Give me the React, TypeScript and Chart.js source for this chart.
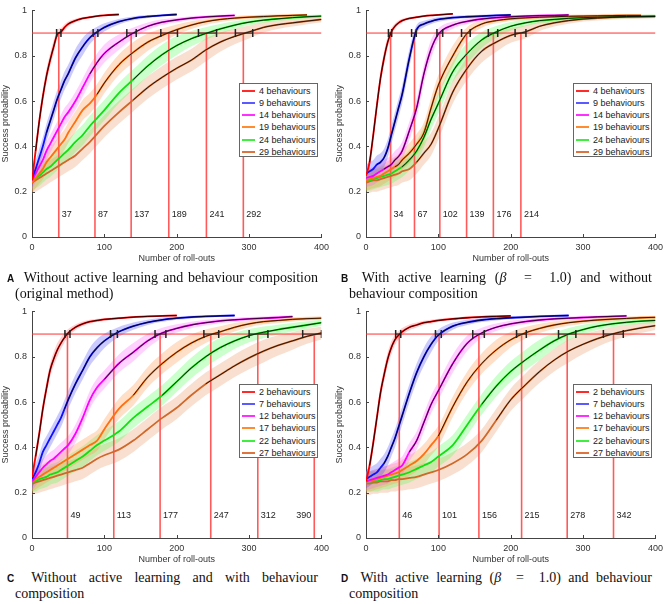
import React, { useEffect, useRef } from "react";
import { Chart, registerables } from "chart.js";
Chart.register(...registerables);

// Shared roll-out sample positions
const rollouts = [0, 5, 10, 15, 20, 25, 30, 35, 40, 45, 50, 60, 70, 80, 90, 100, 120, 140, 160, 180, 200, 220, 240, 260, 280, 300, 320, 340, 360, 380, 400];

// Panel A
const labelsAB = ["4 behaviours", "9 behaviours", "14 behaviours", "19 behaviours", "24 behaviours", "29 behaviours"];
const a4 = [0.25, 0.38, 0.51, 0.62, 0.71, 0.78, 0.84, 0.895, 0.905, 0.925, 0.94, 0.955, 0.965, 0.97, 0.975, 0.978, 0.982];
const a9 = [0.26, 0.3, 0.35, 0.4, 0.46, 0.51, 0.56, 0.61, 0.65, 0.69, 0.72, 0.79, 0.84, 0.88, 0.905, 0.925, 0.95, 0.965, 0.973, 0.978, 0.982];
const a14 = [0.25, 0.28, 0.31, 0.34, 0.38, 0.41, 0.44, 0.47, 0.5, 0.53, 0.55, 0.6, 0.66, 0.72, 0.77, 0.81, 0.86, 0.9, 0.93, 0.948, 0.958, 0.966, 0.971, 0.975, 0.978];
const a19 = [0.24, 0.26, 0.28, 0.3, 0.33, 0.35, 0.37, 0.39, 0.41, 0.43, 0.46, 0.51, 0.56, 0.59, 0.63, 0.68, 0.76, 0.815, 0.86, 0.89, 0.915, 0.935, 0.95, 0.96, 0.966, 0.97, 0.973, 0.976, 0.978, 0.98];
const a24 = [0.25, 0.26, 0.27, 0.285, 0.3, 0.31, 0.325, 0.34, 0.355, 0.37, 0.385, 0.42, 0.45, 0.49, 0.525, 0.56, 0.635, 0.695, 0.755, 0.805, 0.845, 0.875, 0.898, 0.918, 0.935, 0.948, 0.957, 0.963, 0.968, 0.972, 0.975];
const a29 = [0.24, 0.25, 0.26, 0.27, 0.28, 0.29, 0.3, 0.31, 0.32, 0.33, 0.34, 0.36, 0.39, 0.42, 0.455, 0.49, 0.55, 0.605, 0.66, 0.705, 0.745, 0.78, 0.825, 0.86, 0.885, 0.905, 0.925, 0.937, 0.945, 0.953, 0.96];
const crossA = [37, 87, 137, 189, 241, 292];
const ciLoA = [34, 84.5, 131, 178, 230, 281];
const ciHiA = [40, 91, 144, 201, 255, 305];
const fitStartA = [3, 20, 80, 90, 130, 140];

// Panel B
const b4 = [0.27, 0.33, 0.45, 0.58, 0.7, 0.79, 0.86, 0.905, 0.93, 0.945, 0.955, 0.965, 0.97, 0.975, 0.978, 0.98, 0.985];
const b9 = [0.28, 0.29, 0.3, 0.32, 0.33, 0.35, 0.39, 0.45, 0.51, 0.57, 0.63, 0.79, 0.915, 0.94, 0.952, 0.96, 0.968, 0.972, 0.975, 0.978, 0.98];
const b14 = [0.26, 0.265, 0.27, 0.28, 0.29, 0.3, 0.31, 0.32, 0.34, 0.355, 0.38, 0.47, 0.57, 0.72, 0.83, 0.895, 0.935, 0.952, 0.962, 0.968, 0.972, 0.975, 0.977, 0.978, 0.98];
const b19 = [0.25, 0.255, 0.26, 0.265, 0.27, 0.28, 0.29, 0.3, 0.31, 0.32, 0.34, 0.37, 0.41, 0.46, 0.57, 0.67, 0.8, 0.9, 0.94, 0.955, 0.963, 0.967, 0.97, 0.972, 0.974, 0.975, 0.976, 0.977, 0.978, 0.978];
const b24 = [0.25, 0.25, 0.255, 0.26, 0.265, 0.27, 0.275, 0.28, 0.29, 0.3, 0.31, 0.34, 0.38, 0.44, 0.52, 0.59, 0.73, 0.81, 0.87, 0.905, 0.93, 0.945, 0.955, 0.96, 0.965, 0.968, 0.97, 0.972, 0.973, 0.974, 0.975];
const b29 = [0.24, 0.245, 0.25, 0.25, 0.255, 0.26, 0.265, 0.27, 0.275, 0.28, 0.29, 0.3, 0.33, 0.37, 0.41, 0.48, 0.64, 0.745, 0.82, 0.86, 0.89, 0.905, 0.93, 0.945, 0.955, 0.962, 0.966, 0.969, 0.971, 0.972, 0.973];
const crossB = [34, 67, 102, 139, 176, 214];
const ciLoB = [31, 63, 98, 132, 169, 206];
const ciHiB = [35.5, 69.5, 106, 144, 182, 221];
const fitStartB = [5, 15, 25, 40, 50, 70];

// Panel C
const labelsCD = ["2 behaviours", "7 behaviours", "12 behaviours", "17 behaviours", "22 behaviours", "27 behaviours"];
const c2 = [0.27, 0.36, 0.46, 0.57, 0.66, 0.74, 0.79, 0.83, 0.86, 0.885, 0.905, 0.93, 0.945, 0.955, 0.96, 0.965, 0.97, 0.975, 0.978, 0.98, 0.982];
const c7 = [0.26, 0.29, 0.33, 0.38, 0.41, 0.44, 0.47, 0.5, 0.53, 0.57, 0.61, 0.68, 0.74, 0.8, 0.84, 0.87, 0.91, 0.935, 0.952, 0.963, 0.97, 0.975, 0.978, 0.98, 0.982];
const c12 = [0.25, 0.27, 0.29, 0.31, 0.325, 0.34, 0.35, 0.365, 0.38, 0.395, 0.41, 0.46, 0.53, 0.61, 0.665, 0.7, 0.77, 0.82, 0.87, 0.905, 0.925, 0.94, 0.95, 0.958, 0.963, 0.967, 0.97, 0.973, 0.977];
const c17 = [0.25, 0.26, 0.27, 0.28, 0.29, 0.3, 0.31, 0.32, 0.33, 0.34, 0.35, 0.37, 0.39, 0.41, 0.43, 0.48, 0.57, 0.63, 0.71, 0.77, 0.82, 0.86, 0.89, 0.91, 0.93, 0.945, 0.955, 0.96, 0.965, 0.968, 0.97];
const c22 = [0.25, 0.25, 0.26, 0.265, 0.27, 0.28, 0.285, 0.29, 0.3, 0.31, 0.32, 0.34, 0.36, 0.385, 0.41, 0.43, 0.47, 0.53, 0.58, 0.63, 0.69, 0.75, 0.8, 0.84, 0.87, 0.893, 0.908, 0.92, 0.93, 0.94, 0.95];
const c27 = [0.24, 0.245, 0.25, 0.255, 0.26, 0.265, 0.27, 0.275, 0.28, 0.285, 0.29, 0.3, 0.31, 0.33, 0.35, 0.365, 0.39, 0.43, 0.48, 0.53, 0.575, 0.63, 0.68, 0.72, 0.76, 0.795, 0.825, 0.85, 0.87, 0.89, 0.905];
const crossC = [49, 113, 177, 247, 312, 390];
const ciLoC = [45.5, 108.5, 170, 237.5, 300, 374];
const ciHiC = [52.5, 118, 185, 258, 326, 400];
const fitStartC = [3, 45, 100, 130, 180, 230];

// Panel D
const d2 = [0.25, 0.32, 0.42, 0.53, 0.64, 0.72, 0.79, 0.84, 0.875, 0.895, 0.91, 0.93, 0.94, 0.95, 0.955, 0.96, 0.967, 0.972, 0.976, 0.978, 0.98];
const d7 = [0.26, 0.27, 0.28, 0.29, 0.31, 0.33, 0.36, 0.4, 0.44, 0.49, 0.54, 0.64, 0.73, 0.8, 0.855, 0.895, 0.935, 0.952, 0.962, 0.968, 0.972, 0.975, 0.978, 0.98, 0.982];
const d12 = [0.25, 0.255, 0.26, 0.265, 0.27, 0.275, 0.28, 0.29, 0.3, 0.31, 0.32, 0.38, 0.43, 0.51, 0.59, 0.65, 0.77, 0.86, 0.905, 0.93, 0.945, 0.955, 0.962, 0.967, 0.97, 0.973, 0.976, 0.978, 0.98];
const d17 = [0.25, 0.25, 0.255, 0.26, 0.265, 0.27, 0.275, 0.28, 0.285, 0.29, 0.3, 0.32, 0.34, 0.37, 0.41, 0.45, 0.58, 0.69, 0.77, 0.83, 0.875, 0.905, 0.925, 0.94, 0.95, 0.957, 0.962, 0.966, 0.969, 0.972, 0.974];
const d22 = [0.25, 0.25, 0.25, 0.25, 0.255, 0.26, 0.26, 0.265, 0.27, 0.275, 0.28, 0.29, 0.305, 0.32, 0.335, 0.36, 0.41, 0.5, 0.59, 0.67, 0.735, 0.785, 0.83, 0.87, 0.9, 0.92, 0.935, 0.945, 0.952, 0.957, 0.96];
const d27 = [0.24, 0.24, 0.245, 0.245, 0.25, 0.25, 0.25, 0.255, 0.255, 0.26, 0.26, 0.265, 0.27, 0.28, 0.29, 0.3, 0.33, 0.37, 0.43, 0.52, 0.61, 0.675, 0.735, 0.785, 0.825, 0.855, 0.88, 0.9, 0.915, 0.927, 0.937];
const crossD = [46, 101, 156, 215, 278, 342];
const ciLoD = [41, 96, 147.5, 208, 266, 328];
const ciHiD = [48, 104, 163.5, 221.5, 290, 355.5];
const fitStartD = [3, 25, 60, 100, 150, 180];

// Confidence band half-widths per series
const bandWidth = [0.03, 0.04, 0.04, 0.045, 0.045, 0.05];

const threshold = 0.9;
const xTicks = [0, 100, 200, 300, 400];

const COLORS = ["#ff0000", "#1010ff", "#ff00ff", "#ff7010", "#10e010", "#d0682a"];
const BANDS = [
  "rgba(255,70,70,0.25)",
  "rgba(80,80,255,0.3)",
  "rgba(255,90,255,0.28)",
  "rgba(255,150,70,0.3)",
  "rgba(70,255,70,0.28)",
  "rgba(235,150,100,0.3)",
];
const LEGEND_COLORS = ["#ff2a2a", "#5a5aff", "#ff30ff", "#ff8c30", "#40ee40", "#de7440"];

const SANS = '"Liberation Sans", Arial, Helvetica, sans-serif';
const SERIF = '"Liberation Serif", "Times New Roman", Times, serif';

Chart.defaults.font.family = SANS;

type PanelProps = {
  series: number[][];
  cross: number[];
  ciLo: number[];
  ciHi: number[];
  fitStart: number[];
  left: number;
  top: number;
};

function Panel({ series, cross, ciLo, ciHi, fitStart, left, top }: PanelProps) {
  const ref = useRef<HTMLCanvasElement | null>(null);

  useEffect(() => {
    if (!ref.current) return;
    const datasets: any[] = [];

    // error-bar markers on the threshold line (top-most)
    series.forEach((_, i) => {
      datasets.push({
        data: [
          { x: ciLo[i], y: threshold },
          { x: ciHi[i], y: threshold },
        ],
        borderColor: "#222",
        borderWidth: 1,
        pointStyle: "line",
        pointRadius: 4,
        pointRotation: 90,
        pointBorderColor: "#222",
        pointBorderWidth: 1.5,
        order: 0,
      });
    });

    // black fitted curves
    series.forEach((s, i) => {
      const pts = s.map((y, k) => ({ x: rollouts[k], y })).filter((p) => p.x >= fitStart[i]);
      datasets.push({
        data: pts,
        borderColor: "#000",
        borderWidth: 0.8,
        pointRadius: 0,
        cubicInterpolationMode: "monotone",
        order: 1,
      });
    });

    // mean curves
    series.forEach((s, i) => {
      datasets.push({
        data: s.map((y, k) => ({ x: rollouts[k], y })),
        borderColor: COLORS[i],
        borderWidth: 1.8,
        pointRadius: 0,
        cubicInterpolationMode: "monotone",
        order: 2,
      });
    });

    // red reference lines
    datasets.push({
      data: [
        { x: 0, y: threshold },
        { x: 400, y: threshold },
      ],
      borderColor: "#ff3030",
      borderWidth: 1,
      pointRadius: 0,
      order: 3,
    });
    cross.forEach((c) => {
      datasets.push({
        data: [
          { x: c, y: 0 },
          { x: c, y: threshold },
        ],
        borderColor: "#ff5a5a",
        borderWidth: 1.6,
        pointRadius: 0,
        order: 3,
      });
    });

    // confidence bands
    series.forEach((s, i) => {
      const w = (y: number) => bandWidth[i] * Math.min(1, (1 - y) * 6);
      datasets.push({
        data: s.map((y, k) => ({ x: rollouts[k], y: Math.min(1, y + w(y)) })),
        borderWidth: 0,
        borderColor: "rgba(0,0,0,0)",
        pointRadius: 0,
        cubicInterpolationMode: "monotone",
        fill: false,
        order: 4,
      });
      datasets.push({
        data: s.map((y, k) => ({ x: rollouts[k], y: y - w(y) })),
        borderWidth: 0,
        borderColor: "rgba(0,0,0,0)",
        backgroundColor: BANDS[i],
        pointRadius: 0,
        cubicInterpolationMode: "monotone",
        fill: "-1",
        order: 4,
      });
    });

    const overlay = {
      id: "overlay",
      afterDatasetsDraw(chart: any) {
        const { ctx, chartArea, scales } = chart;
        const x = scales.x;
        const y = scales.y;
        ctx.save();
        ctx.font = `9px ${SANS}`;
        ctx.fillStyle = "#222";
        ctx.textBaseline = "middle";
        cross.forEach((c) => {
          const px = x.getPixelForValue(c);
          const py = y.getPixelForValue(0.1);
          if (c > 370) {
            ctx.textAlign = "right";
            ctx.fillText(String(c), px - 3, py);
          } else {
            ctx.textAlign = "left";
            ctx.fillText(String(c), px + 3, py);
          }
        });
        // inward tick marks
        ctx.strokeStyle = "#444";
        ctx.lineWidth = 1;
        ctx.beginPath();
        xTicks.forEach((v) => {
          const px = Math.round(x.getPixelForValue(v)) + 0.5;
          ctx.moveTo(px, chartArea.bottom);
          ctx.lineTo(px, chartArea.bottom - 3);
        });
        y.ticks.forEach((t: any) => {
          const py = Math.round(y.getPixelForValue(t.value)) + 0.5;
          ctx.moveTo(chartArea.left, py);
          ctx.lineTo(chartArea.left + 3, py);
        });
        ctx.stroke();
        ctx.restore();
      },
    };

    const font = { family: SANS, size: 9 };
    const chart = new Chart(ref.current, {
      type: "line",
      data: { datasets },
      options: {
        responsive: false,
        animation: false,
        events: [],
        layout: { padding: { left: 0, top: 6, right: 8, bottom: 0 } },
        plugins: { legend: { display: false }, tooltip: { enabled: false } },
        scales: {
          x: {
            type: "linear",
            min: 0,
            max: 400,
            ticks: { stepSize: 100, padding: 5, color: "#333", font, maxRotation: 0 },
            grid: { display: true, drawOnChartArea: false, drawTicks: false },
            border: { display: true, color: "#444", width: 1 },
            title: { display: true, text: "Number of roll-outs", padding: 0, color: "#333", font },
            afterFit: (s: any) => {
              s.height = 27;
            },
          },
          y: {
            min: 0,
            max: 1,
            ticks: {
              stepSize: 0.2,
              padding: 5,
              color: "#333",
              font,
              callback: (v: any) => (v === 0 ? "0" : v === 1 ? "1" : Number(v).toFixed(1)),
            },
            grid: { display: true, drawOnChartArea: false, drawTicks: false },
            border: { display: true, color: "#444", width: 1 },
            title: { display: true, text: "Success probability", padding: 0, color: "#333", font },
            afterFit: (s: any) => {
              s.width = 32;
            },
          },
        },
      } as any,
      plugins: [overlay],
    });
    return () => chart.destroy();
  }, []);

  return (
    <canvas
      ref={ref}
      width={334}
      height={264}
      style={{ position: "absolute", left, top, width: 334, height: 264 }}
    />
  );
}

function Legend({ labels, left, top }: { labels: string[]; left: number; top: number }) {
  return (
    <div
      style={{
        position: "absolute",
        left,
        top,
        width: 79,
        height: 74,
        boxSizing: "border-box",
        border: "1px solid #666",
        background: "#fff",
        fontFamily: SANS,
        fontSize: 9,
        color: "#222",
        zIndex: 5,
      }}
    >
      {labels.map((l, i) => (
        <div
          key={l}
          style={{
            position: "absolute",
            left: 2,
            top: 0.5 + i * 12.3,
            height: 12,
            lineHeight: "12px",
            whiteSpace: "nowrap",
          }}
        >
          <div
            style={{
              position: "absolute",
              left: 0,
              top: 5,
              width: 13,
              height: 2,
              background: LEGEND_COLORS[i],
            }}
          />
          <span style={{ position: "absolute", left: 17, top: 0 }}>{l}</span>
        </div>
      ))}
    </div>
  );
}

function Caption({ label, left, top, line1, line2 }: { label: string; left: number; top: number; line1: any; line2: any }) {
  const base = {
    fontFamily: SERIF,
    fontSize: 14,
    lineHeight: "15px",
    color: "#111",
    whiteSpace: "nowrap" as const,
  };
  return (
    <div style={{ position: "absolute", left: left - 8, top, width: 311, zIndex: 5 }}>
      <div style={{ ...base, textAlign: "justify", textAlignLast: "justify" as any }}>
        <span style={{ fontFamily: SANS, fontWeight: "bold", fontSize: 10, marginRight: 5 }}>{label}</span> {line1}
      </div>
      <div style={{ ...base, paddingLeft: 8 }}>{line2}</div>
    </div>
  );
}

export default function App() {
  return (
    <div style={{ position: "absolute", left: 0, top: 0, width: 669, height: 604, background: "#fff", overflow: "hidden" }}>
      <Panel series={[a4, a9, a14, a19, a24, a29]} cross={crossA} ciLo={ciLoA} ciHi={ciHiA} fitStart={fitStartA} left={0} top={0} />
      <Panel series={[b4, b9, b14, b19, b24, b29]} cross={crossB} ciLo={ciLoB} ciHi={ciHiB} fitStart={fitStartB} left={334} top={0} />
      <Panel series={[c2, c7, c12, c17, c22, c27]} cross={crossC} ciLo={ciLoC} ciHi={ciHiC} fitStart={fitStartC} left={0} top={301} />
      <Panel series={[d2, d7, d12, d17, d22, d27]} cross={crossD} ciLo={ciLoD} ciHi={ciHiD} fitStart={fitStartD} left={334} top={301} />
      <Legend labels={labelsAB} left={239} top={83} />
      <Legend labels={labelsAB} left={573} top={83} />
      <Legend labels={labelsCD} left={239} top={384} />
      <Legend labels={labelsCD} left={573} top={384} />
      <Caption
        label="A"
        left={15}
        top={270}
        line1="Without active learning and behaviour composition"
        line2="(original method)"
      />
      <Caption
        label="B"
        left={349}
        top={270}
        line1={<>With active learning (<i>β</i> &nbsp;= &nbsp;1.0) and without</>}
        line2="behaviour composition"
      />
      <Caption
        label="C"
        left={15}
        top={570}
        line1="Without active learning and with behaviour"
        line2="composition"
      />
      <Caption
        label="D"
        left={349}
        top={570}
        line1={<>With active learning (<i>β</i> &nbsp;= &nbsp;1.0) and behaviour</>}
        line2="composition"
      />
    </div>
  );
}
